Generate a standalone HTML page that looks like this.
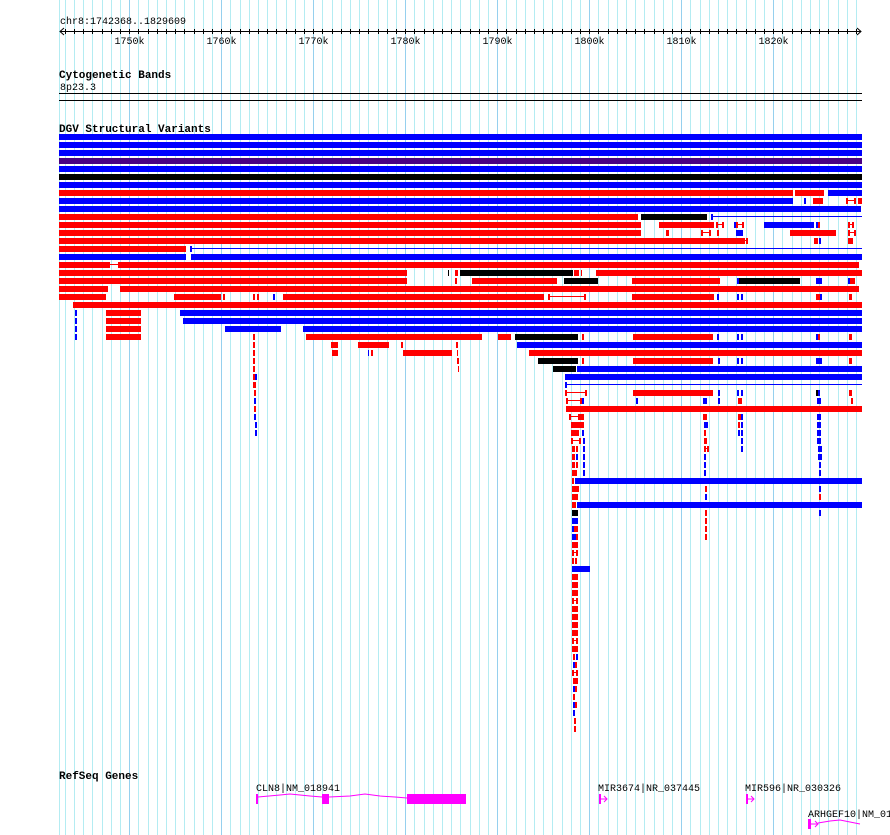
<!DOCTYPE html>
<html><head><meta charset="utf-8">
<style>
html,body{margin:0;padding:0;background:#fff;}
svg{display:block;}
text{font-family:"Liberation Mono","DejaVu Sans Mono",monospace;font-size:10px;fill:#000;}
.b{font-weight:bold;font-size:11px;}
</style></head>
<body>
<svg id="s" width="890" height="835" xmlns="http://www.w3.org/2000/svg">
<g id="grid"></g>
<g id="ruler"></g>
<text x="60" y="24">chr8:1742368..1829609</text>
<text x="59" y="78" class="b">Cytogenetic Bands</text>
<text x="60" y="90">8p23.3</text>
<rect x="59" y="93" width="803" height="1" fill="#000"/>
<rect x="59" y="100" width="803" height="1" fill="#000"/>
<text x="59" y="132" class="b">DGV Structural Variants</text>
<g id="dgv"></g>
<text x="59" y="779" class="b">RefSeq Genes</text>
<text x="256" y="791">CLN8|NM_018941</text>
<polyline points="258,797 280,795 290,794 300,795 310,796 322,797" fill="none" stroke="#ff00ff" stroke-width="1"/>
<polyline points="329,797 350,796 365,794 380,796 395,797 407,798" fill="none" stroke="#ff00ff" stroke-width="1"/>
<rect x="256" y="794" width="2" height="10" fill="#ff00ff"/>
<rect x="322" y="794" width="7" height="10" fill="#ff00ff"/>
<rect x="407" y="794" width="59" height="10" fill="#ff00ff"/>
<text x="598" y="791">MIR3674|NR_037445</text>
<rect x="599" y="794" width="2" height="10" fill="#ff00ff"/>
<path d="M601,799H607M604,796L607,799L604,802" fill="none" stroke="#ff00ff"/>
<text x="745" y="791">MIR596|NR_030326</text>
<rect x="746" y="794" width="2" height="10" fill="#ff00ff"/>
<path d="M748,799H754M751,796L754,799L751,802" fill="none" stroke="#ff00ff"/>
<text x="808" y="817">ARHGEF10|NM_01</text>
<rect x="808" y="819" width="3" height="10" fill="#ff00ff"/>
<path d="M811,824H818M815,821L818,824L815,827M818,823L830,821L840,820L850,822L860,824" fill="none" stroke="#ff00ff"/>
</svg>
<script>
var NS="http://www.w3.org/2000/svg";
function el(p,t,a){var e=document.createElementNS(NS,t);for(var k in a)e.setAttribute(k,a[k]);p.appendChild(e);return e;}
var g=document.getElementById('grid');
var x0=59,sc=0.0092,b0=1742368;
function X(bp){return x0+(bp-b0)*sc;}
el(g,'rect',{x:59,y:0,width:1,height:835,fill:'#b4ecf2'});
for(var k=1743;k<=1829;k++){var x=Math.round(X(k*1000));var maj=(k%10==0);
 el(g,'rect',{x:x,y:0,width:1,height:835,fill:maj?'#96d0ee':'#b4ecf2'});}
var r=document.getElementById('ruler');
el(r,'rect',{x:60,y:31,width:801,height:1,fill:'#000'});
el(r,'path',{d:'M64,28L60,31.5L64,35M857,28L861,31.5L857,35',fill:'none',stroke:'#000'});
for(var k=1743;k<=1829;k++){var x=Math.round(X(k*1000))+0.5;el(r,'line',{x1:x,x2:x,y1:29,y2:34,stroke:'#000'});
 if(k%10==0){var t=el(r,'text',{x:x,y:44,'text-anchor':'middle'});t.textContent=k+'k';}}
var C={b:'#0000ff',r:'#ff0000',k:'#000000',p:'#4b0082'};
var rows=[
"59-862b","59-862b","59-862b","59-862p","59-862b","59-862k","59-862b",
"59-793r 795-824r 828-862b",
"59-793b 804-806b 813-823r 846-856H 858-862r",
"59-861b",
"59-638r 641-707k 711-862L",
"59-641r 659-714r 716-724H 734-736b 736-744H 764-814b 816-818b 818-820r 848-854H",
"59-641r 666-669r 701-711H 717-719r 736-743b 790-836r 848-856H",
"59-743r 743-748H 814-818r 819-821b 848-853r",
"59-186r 190-862L",
"59-186b 191-862b",
"59-110r 110-118l 118-859r",
"59-407r 448-449k 455-458r 460-573k 574-579r 581-582r 596-862r",
"59-407r 455-457r 472-557r 564-598k 632-720r 737-739b 739-800k 816-822b 848-850b 850-855r",
"59-108r 120-859r",
"59-106r 174-221r 223-225r 253-255r 257-259r 273-275b 283-544r 548-586H 632-714r 717-719b 737-739b 741-743b 816-820r 820-822b 849-852r",
"73-862r",
"75-77b 106-141r 180-862b",
"75-77b 106-141r 183-862b",
"75-77b 106-141r 225-281b 303-862b",
"75-77b 106-141r 253-255r 306-482r 498-511r 515-578k 582-584r 633-713r 717-719b 737-739b 741-743b 816-818b 818-820r 849-852r",
"253-255r 331-338r 358-389r 401-403r 456-458r 517-862b",
"253-255r 332-338r 368-369b 371-373r 403-452r 457-458r 529-862r",
"253-255r 457-459r 538-578k 582-584r 633-713r 718-720b 737-739b 741-743b 816-822b 849-852r",
"253-255r 458-459r 553-576k 577-862b",
"253-255r 255-257b 565-862b",
"253-256r 565-862L",
"254-256r 565-587H 633-713r 718-720b 737-739b 741-743b 816-818k 818-820b 849-852r",
"254-256b 566-582H 582-584b 636-638b 703-707b 718-720b 738-742r 817-821b 851-853r",
"254-256r 566-862r",
"254-256b 569-580H 580-584r 703-707r 738-741r 741-743b 817-821b",
"255-257b 571-584r 704-708b 738-740r 741-743b 817-821b",
"255-257b 571-579r 582-584b 704-706r 738-740b 741-743b 817-821b",
"571-581H 583-585b 704-707r 741-743b 817-821b",
"572-575r 576-578r 583-585b 704-709H 741-743b 818-822b",
"572-575r 576-578b 583-585b 704-706b 818-822b",
"572-575r 576-578r 583-585b 704-706b 819-821b",
"572-577r 583-585b 704-706b 819-821b",
"572-574r 575-862b",
"572-579r 705-707r 819-821b",
"572-578r 705-707b 819-821r",
"572-576r 577-862b",
"572-578k 705-707r 819-821b",
"572-578b 705-707r",
"572-574b 574-578r 705-707r",
"572-576b 576-578r 705-707r",
"572-578r",
"572-578H",
"572-574r 575-577r",
"572-590b",
"572-578r","572-578r","572-578r","572-578H","572-578r","572-578r","572-578r","572-578r","572-578H","572-578r",
"573-575r 576-578b","573-575b 575-577r","572-578H","573-578r","573-575b 575-577r","573-575r","573-575b 575-577r","573-575b","574-576r","574-576r"
];
var d=document.getElementById('dgv');
rows.forEach(function(s,i){var y=134+8*i;s.split(' ').forEach(function(seg){
 var m=seg.match(/(\d+)-(\d+)(\w)/);var a=+m[1],b=+m[2],c=m[3];
 if(c=='H'){el(d,'rect',{x:a,y:y,width:2,height:6,fill:'#f00'});el(d,'rect',{x:b-2,y:y,width:2,height:6,fill:'#f00'});el(d,'rect',{x:a,y:y+2,width:b-a,height:1,fill:'#f00'});}
 else if(c=='L'){el(d,'rect',{x:a,y:y,width:2,height:6,fill:'#00f'});el(d,'rect',{x:a,y:y+2,width:b-a,height:1,fill:'#00f'});}
 else if(c=='l'){el(d,'rect',{x:a,y:y+2,width:b-a,height:1,fill:'#f00'});}
 else el(d,'rect',{x:a,y:y,width:b-a,height:6,fill:C[c]});
});});
</script>
</body></html>
